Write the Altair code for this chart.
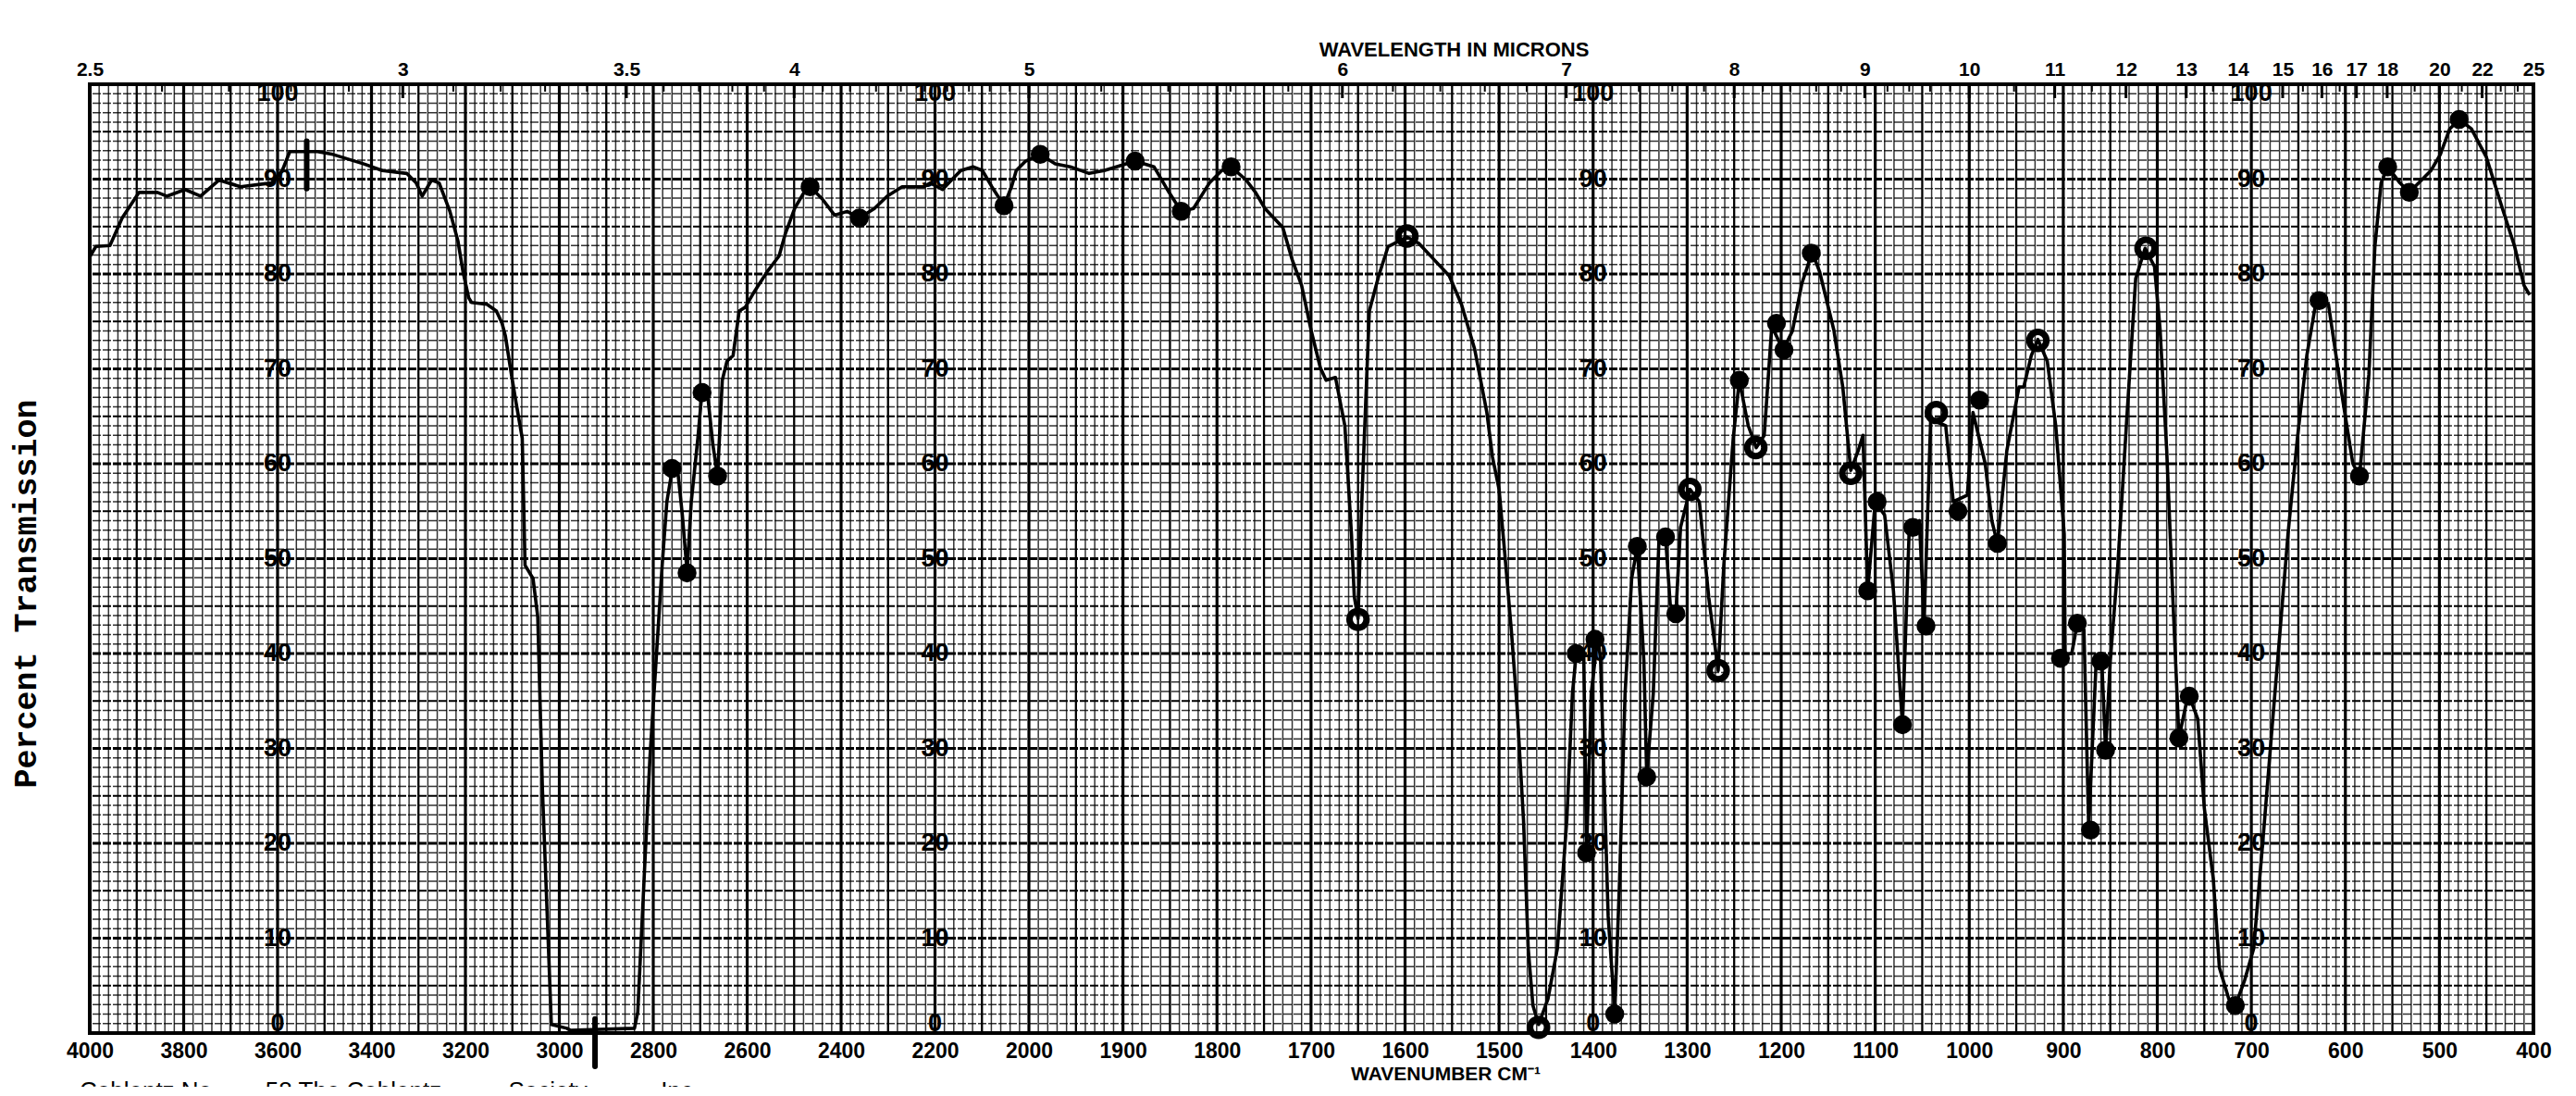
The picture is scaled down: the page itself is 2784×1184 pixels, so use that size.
import altair as alt
import pandas as pd

# ---------------- spectrum trace: wavenumber (cm-1) and % transmission ----------------
wavenumber = [
    4000, 3987, 3957, 3931, 3895, 3856, 3836, 3797, 3764, 3725, 3679, 3613, 3590, 3574,
    3548, 3515, 3482, 3416, 3377, 3325, 3305, 3292, 3272, 3256, 3233, 3216, 3205, 3193,
    3187, 3154, 3134, 3122, 3115, 3102, 3092, 3079, 3073, 3056, 3046, 3036, 3017, 2984,
    2977, 2840, 2833, 2820, 2807, 2794, 2781, 2771, 2761, 2748, 2738, 2728, 2719, 2705,
    2696, 2683, 2673, 2663, 2653, 2643, 2630, 2617, 2604, 2584, 2558, 2532, 2519, 2499,
    2479, 2466, 2440, 2414, 2387, 2361, 2329, 2302, 2270, 2224, 2210, 2184, 2165, 2145,
    2119, 2099, 2079, 2053, 2037, 2027, 2007, 1988, 1972, 1956, 1936, 1920, 1907, 1887,
    1867, 1851, 1838, 1825, 1808, 1795, 1785, 1769, 1759, 1749, 1730, 1720, 1710, 1700,
    1690, 1684, 1674, 1664, 1657, 1654, 1650, 1646, 1638, 1628, 1618, 1598, 1585, 1569,
    1553, 1540, 1526, 1513, 1507, 1500, 1494, 1487, 1481, 1474, 1469, 1464, 1458, 1448,
    1438, 1428, 1422, 1418, 1410, 1407, 1402, 1395, 1392, 1389, 1384, 1377, 1372, 1366,
    1359, 1353, 1346, 1343, 1336, 1330, 1323, 1318, 1312, 1307, 1297, 1287, 1277, 1267,
    1261, 1251, 1244.5, 1235, 1226.5, 1218, 1210, 1198, 1188, 1178, 1167, 1159, 1144,
    1134.5, 1126, 1118, 1113, 1108, 1100, 1090, 1080.6, 1071, 1064, 1053, 1048, 1041,
    1025, 1017, 1002, 996, 983, 976, 970, 960, 947, 942, 934, 927, 917, 908, 899, 898,
    891, 885, 878, 873, 865, 859, 855, 850, 842, 832.5, 823, 813, 803, 797, 790, 783.5,
    777, 767, 757, 750, 740.5, 734, 724, 717, 707, 697.5, 687.6, 677.7, 671, 661, 651,
    641, 631, 618, 605, 592, 585, 575, 568.6, 562, 555, 542, 532, 519, 509, 499, 489,
    479, 466, 450, 433, 420, 410, 404,
]
transmission = [
    81.8, 82.9, 83.0, 85.9, 88.6, 88.6, 88.2, 88.9, 88.2, 89.9, 89.2, 89.6, 90.9, 92.9,
    92.9, 92.9, 92.6, 91.6, 90.9, 90.6, 89.6, 88.2, 89.9, 89.6, 86.6, 83.5, 80.2, 77.5,
    77.0, 76.8, 76.1, 74.8, 73.5, 69.4, 66.4, 62.7, 49.3, 47.9, 43.9, 25.7, 0.9, 0.5,
    0.3, 0.5, 2.2, 15.7, 29.1, 39.2, 49.3, 56.0, 59.0, 59.3, 54.6, 48.6, 56.0, 62.7,
    67.7, 66.7, 62.0, 58.7, 68.8, 70.8, 71.4, 76.1, 76.5, 78.2, 80.2, 81.9, 84.2, 86.9,
    88.6, 89.2, 87.9, 86.2, 86.6, 85.9, 86.9, 88.2, 89.2, 89.2, 89.6, 88.9, 89.9, 90.9,
    91.3, 90.9, 89.2, 87.2, 89.2, 90.9, 91.9, 92.6, 91.6, 91.3, 90.6, 90.9, 91.3, 91.9,
    91.3, 88.6, 86.6, 86.9, 89.6, 90.9, 91.3, 89.9, 88.6, 86.9, 84.9, 81.5, 78.8, 74.1,
    70.1, 68.8, 69.1, 64.0, 52.6, 46.0, 43.7, 56.0, 76.1, 79.8, 82.9, 83.9, 83.2, 81.5,
    79.8, 76.8, 72.1, 65.4, 60.7, 57.3, 50.6, 42.5, 34.5, 22.4, 8.9, 2.9, 0.9, 3.6,
    8.9, 22.4, 35.8, 39.9, 40.2, 19.0, 35.8, 41.9, 39.2, 29.1, 12.3, 2.2, 15.7, 35.8,
    47.9, 51.3, 39.2, 27.1, 35.8, 51.9, 52.3, 45.2, 44.2, 53.3, 57.3, 56.0, 45.9, 38.2,
    49.3, 62.7, 68.8, 64.0, 61.7, 63.0, 74.5, 72.0, 74.0, 79.0, 82.3, 80.2, 74.1,
    68.1, 59.3, 61.4, 63.0, 46.6, 56.0, 54.6, 46.6, 32.5, 52.6, 54.0, 43.2, 64.7,
    64.0, 56.0, 56.7, 65.4, 60.0, 54.0, 51.6, 61.4, 68.1, 68.1, 71.4, 73.1, 70.8, 64.0, 52.6, 39.9,
    40.0, 43.2, 42.5, 21.7, 39.2, 39.2, 29.8, 39.2, 49.3, 64.7, 79.5, 82.7, 80.8, 74.1, 61.4, 45.9,
    31.1, 35.8, 33.1, 23.7, 16.3, 6.9, 3.6, 2.9, 5.6, 8.9, 20.4, 32.5, 40.5, 52.6, 62.7,
    71.4, 77.2, 76.8, 68.1, 60.0, 58.7, 69.4, 82.9, 89.6, 91.3, 89.6, 88.6, 89.9, 90.9, 92.6, 95.3,
    96.3, 95.3, 92.3, 86.9, 82.9, 78.8, 77.8,
]

# ---------------- hand-inked peak markers ----------------
peak_wn = [2760, 2728, 2696, 2663, 2466, 2361, 2053, 1988, 1887, 1838, 1785, 1650, 1598,
           1458, 1418, 1407, 1398, 1377, 1353, 1343, 1323, 1312, 1297, 1267, 1244.5, 1227,
           1205, 1197, 1168, 1126, 1108, 1098, 1071, 1060, 1046, 1035, 1012, 989, 970, 927,
           903, 885, 871, 860, 855, 812, 777, 766, 717, 628, 585, 555, 532, 479]
peak_tr = [59.5, 48.5, 67.5, 58.7, 89.2, 85.9, 87.2, 92.6, 91.9, 86.6, 91.3, 43.6, 84.0,
           0.6, 40.0, 19.0, 41.5, 2.0, 51.3, 27.0, 52.3, 44.2, 57.3, 38.2, 68.8, 61.7,
           74.8, 72.0, 82.2, 59.0, 46.6, 56.0, 32.5, 53.3, 42.9, 65.4, 55.0, 66.7, 51.6, 73.0,
           39.5, 43.2, 21.4, 39.2, 29.8, 82.7, 31.1, 35.5, 2.9, 77.2, 58.7, 91.3, 88.6, 96.3]
peak_ring = [False, False, False, False, False, False, False, False, False, False, False, True, True,
             True, False, False, False, False, False, False, False, False, True, True, False, True,
             False, False, False, True, False, False, False, False, False, True, False, False, False, True,
             False, False, False, False, False, True, False, False, False, False, False, False, False, False]

# pen strokes on the chart paper
pen_wn = [3538, 2924]
pen_top = [94.0, 1.5]
pen_bottom = [89.0, -3.5]

# ---------------- axes / paper labels ----------------
wn_tick_labels = [4000, 3800, 3600, 3400, 3200, 3000, 2800, 2600, 2400, 2200, 2000,
                  1900, 1800, 1700, 1600, 1500, 1400, 1300, 1200, 1100, 1000, 900, 800,
                  700, 600, 500, 400]
micron_labels = [2.5, 3, 3.5, 4, 5, 6, 7, 8, 9, 10, 11, 12, 13, 14, 15, 16, 17, 18, 20, 22, 25]
micron_minor = ([round(2.5 + 0.1 * i, 1) for i in range(26)]
                + [round(5 + 0.2 * i, 1) for i in range(26)]
                + [10.5, 11.5, 12.5, 13.5, 14.5, 15.5, 16.5, 19, 21, 23, 24])
pct_label_columns = [3600, 2200, 1400, 700]
pct_labels = [0, 10, 20, 30, 40, 50, 60, 70, 80, 90, 100]
NB = "\u00a0"
footer_text = ["Coblentz No." + NB * 7 + "58 The Coblentz" + NB * 10 + "Society" + NB * 11 + "Inc."]

# ---------------- layout ----------------
PLOT_W, PLOT_H = 2641, 1025
X_BREAK = 1015
NARROW = "Liberation Sans Narrow, Liberation Sans, Arial, sans-serif"
SANS = "Liberation Sans, Arial, sans-serif"

X_SCALE = alt.Scale(domain=[4000, 2000, 400], range=[0, X_BREAK, PLOT_W], zero=False, nice=False)
Y_SCALE = alt.Scale(domain=[0, 100], zero=False, nice=False)

# ---------------- graph-paper grid ----------------
v_rows = []
for w in list(range(4000, 2000, -20)) + list(range(2000, 399, -10)):
    if w >= 2000:
        cls = 3.2 if w % 200 == 0 else (2.3 if w % 100 == 0 else 1.5)
    else:
        cls = 3.2 if w % 100 == 0 else (2.3 if w % 50 == 0 else 1.5)
    v_rows.append({"wn": w, "sw": cls, "op": 1.0 if cls > 2 else 0.8})
grid_v = pd.DataFrame(v_rows)

h_rows = []
for t in range(0, 101):
    cls = 2.8 if t % 10 == 0 else (1.9 if t % 5 == 0 else 1.5)
    h_rows.append({"t": t, "sw": cls, "op": 1.0 if cls > 1.6 else 0.8})
grid_h = pd.DataFrame(h_rows)

no_x = alt.X("wn:Q", scale=X_SCALE, axis=None)
no_y = alt.Y("t:Q", scale=Y_SCALE, axis=None)

vgrid = alt.Chart(grid_v).mark_rule(color="black").encode(
    x=no_x,
    strokeWidth=alt.StrokeWidth("sw:Q", scale=None),
    opacity=alt.Opacity("op:Q", scale=None),
)
hgrid = alt.Chart(grid_h).mark_rule(color="black", strokeDash=[9, 2]).encode(
    y=no_y,
    strokeWidth=alt.StrokeWidth("sw:Q", scale=None),
    opacity=alt.Opacity("op:Q", scale=None),
)

# ---------------- printed % labels on the paper ----------------
lab_rows = []
for c in pct_label_columns:
    for v in pct_labels:
        lab_rows.append({"wn": c, "t": min(max(v, 1.0), 99.0), "label": str(v)})
pct_df = pd.DataFrame(lab_rows)
pct_text = alt.Chart(pct_df).mark_text(
    font=NARROW, fontSize=27, fontWeight="bold", color="black", baseline="middle", align="center"
).encode(x=no_x, y=no_y, text="label:N")

# ---------------- micron ticks + top axis ----------------
major_df = pd.DataFrame({"wn": [10000.0 / m for m in micron_labels]})
minor_df = pd.DataFrame({"wn": [10000.0 / m for m in micron_minor if m not in micron_labels]})

top_axis = alt.Axis(
    orient="top", values=[10000.0 / m for m in micron_labels],
    labelExpr="format(10000/datum.value, '.3~r')",
    labelFont=SANS, labelFontSize=21, labelFontWeight="bold", labelColor="black",
    labelPadding=6, labelFlush=False, labelOverlap=False, labelBound=False,
    ticks=False, domain=False, grid=False,
    title="WAVELENGTH IN MICRONS", titleFont=SANS, titleFontSize=22, titleFontWeight="bold",
    titleColor="black", titleX=1474, titleY=-38, titleAlign="center", titleBaseline="middle",
)
major_ticks = alt.Chart(major_df).mark_rule(color="black", strokeWidth=3).encode(
    x=alt.X("wn:Q", scale=X_SCALE, axis=top_axis),
    y=alt.value(0), y2=alt.value(15),
)
minor_ticks = alt.Chart(minor_df).mark_rule(color="black", strokeWidth=2).encode(
    x=no_x, y=alt.value(0), y2=alt.value(8),
)

# ---------------- the spectrum ----------------
spec = pd.DataFrame({"wn": wavenumber, "t": transmission, "i": list(range(len(wavenumber)))})
bottom_axis = alt.Axis(
    orient="bottom", values=wn_tick_labels, format="d",
    labelFont=NARROW, labelFontSize=23, labelFontWeight="bold", labelColor="black",
    labelPadding=8, labelFlush=False, labelOverlap=False, labelBound=False,
    ticks=False, domain=False, grid=False,
    title="WAVENUMBER CM\u207b\u00b9", titleFont=SANS, titleFontSize=21, titleFontWeight="bold",
    titleColor="black", titleX=1465, titleY=44, titleAlign="center", titleBaseline="middle",
)
left_axis = alt.Axis(
    orient="left", labels=False, ticks=False, domain=False, grid=False,
    title="Percent Transmission", titleFont="Liberation Mono, DejaVu Sans Mono, monospace",
    titleFontSize=35, titleFontWeight="bold", titleColor="black",
    titleX=-70, titleY=550, titleAngle=270, titleAlign="center", titleBaseline="middle",
)
line = alt.Chart(spec).mark_line(color="black", strokeWidth=3.6, strokeJoin="round").encode(
    x=alt.X("wn:Q", scale=X_SCALE, axis=bottom_axis),
    y=alt.Y("t:Q", scale=Y_SCALE, axis=left_axis),
    order=alt.Order("i:Q"),
)

peaks = pd.DataFrame({"wn": peak_wn, "t": peak_tr, "ring": peak_ring})
dots = alt.Chart(peaks).transform_filter("!datum.ring").mark_point(
    shape="circle", filled=True, size=420, color="black", opacity=1
).encode(x=no_x, y=no_y)
rings = alt.Chart(peaks).transform_filter("datum.ring").mark_point(
    shape="circle", filled=False, size=340, strokeWidth=7, color="black", opacity=1
).encode(x=no_x, y=no_y)

pen = pd.DataFrame({"wn": pen_wn, "t": pen_top, "t2": pen_bottom})
pen_marks = alt.Chart(pen).mark_rule(color="black", strokeWidth=6, strokeCap="round").encode(
    x=no_x, y=no_y, y2="t2:Q"
)

footer = alt.Chart(pd.DataFrame({"txt": footer_text})).mark_text(
    font=SANS, fontSize=26, color="black", align="left", baseline="top"
).encode(x=alt.value(-11), y=alt.value(1075), text="txt:N")

chart = alt.layer(
    vgrid, hgrid, pct_text, minor_ticks, major_ticks, line, dots, rings, pen_marks, footer
).resolve_axis(x="independent", y="independent").properties(
    width=PLOT_W, height=PLOT_H,
    autosize=alt.AutoSizeParams(type="none"),
    padding={"left": 89, "top": 83, "right": 30, "bottom": 58},
    background="white",
).configure_view(stroke="black", strokeWidth=4)

chart.save("out.html", embed_options={"renderer": "svg", "actions": False})
